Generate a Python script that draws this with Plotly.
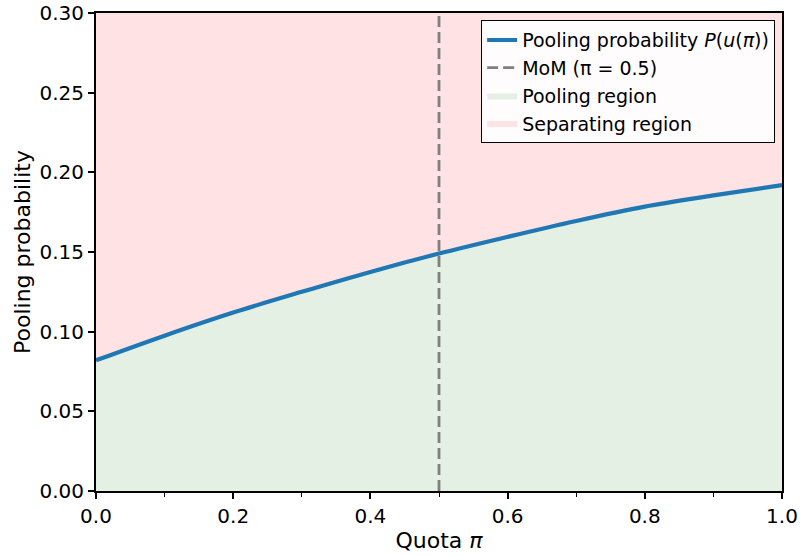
import plotly.graph_objects as go

# Quota values and pooling probability along the curve
quota = [0.0, 0.1, 0.2, 0.3, 0.4, 0.5, 0.6, 0.7, 0.8, 0.9, 1.0]
pooling_prob = [0.082, 0.0975, 0.112, 0.125, 0.1375, 0.149, 0.1595, 0.1695, 0.1785, 0.1855, 0.192]

mom_quota = 0.5
y_max = 0.30

x_ticks = [0.0, 0.2, 0.4, 0.6, 0.8, 1.0]
y_ticks = [0.00, 0.05, 0.10, 0.15, 0.20, 0.25, 0.30]

font = "DejaVu Sans"
green_fill = "rgb(229,240,228)"
pink_fill = "rgb(255,226,228)"
blue = "#1f77b4"

fig = go.Figure()

# Pooling probability curve
fig.add_trace(go.Scatter(
    x=quota, y=pooling_prob, mode="lines", line=dict(color=blue, width=4.2, shape="spline"),
    name="Pooling probability <i>P</i>(<i>u</i>(<i>π</i>))", legendrank=1,
))
# MoM reference line
fig.add_trace(go.Scatter(
    x=[mom_quota, mom_quota], y=[0, y_max], mode="lines",
    line=dict(color="gray", width=2.8, dash="11px,5px"),
    name="MoM (π = 0.5)", legendrank=2,
))
# Pooling region: below the curve
fig.add_trace(go.Scatter(
    x=quota, y=pooling_prob, mode="lines", line=dict(width=0, shape="spline", color=green_fill),
    fill="tozeroy", fillcolor=green_fill, name="Pooling region", legendrank=3,
))
# Separating region: between the curve and the top of the axis
fig.add_trace(go.Scatter(
    x=quota, y=[y_max] * len(quota), mode="lines", line=dict(width=0, color=pink_fill),
    fill="tonexty", fillcolor=pink_fill, name="Separating region", legendrank=4,
))
# Redraw the curve and MoM line above the fills
fig.add_trace(go.Scatter(
    x=quota, y=pooling_prob, mode="lines", line=dict(color=blue, width=4.2, shape="spline"),
    showlegend=False, hoverinfo="skip",
))
fig.add_trace(go.Scatter(
    x=[mom_quota, mom_quota], y=[0, y_max], mode="lines",
    line=dict(color="gray", width=2.8, dash="11px,5px"),
    showlegend=False, hoverinfo="skip",
))

axis_common = dict(
    showline=True, linecolor="black", linewidth=2, mirror=True,
    ticks="outside", ticklen=6, tickwidth=1.5, tickcolor="black",
    showgrid=False, zeroline=False, automargin=False,
    tickfont=dict(family=font, size=20, color="black"),
)

fig.update_xaxes(
    range=[0, 1], tickvals=x_ticks, ticktext=[f"{v:.1f}" for v in x_ticks],
    title=dict(text="Quota <i>π</i>", font=dict(family=font, size=22, color="black"), standoff=6),
    minor=dict(ticks="outside", ticklen=3.5, tickwidth=1, tickcolor="black", dtick=0.1, showgrid=False),
    **axis_common,
)
fig.update_yaxes(
    range=[0, y_max], tickvals=y_ticks, ticktext=[f"{v:.2f}" for v in y_ticks],
    title=dict(text="Pooling probability", font=dict(family=font, size=22, color="black"), standoff=3),
    **axis_common,
)

fig.update_layout(
    width=801, height=556,
    margin=dict(l=96, r=19, t=13, b=65),
    plot_bgcolor="white", paper_bgcolor="white",
    font=dict(family=font, size=19, color="black"),
    legend=dict(
        x=0.99, y=0.985, xanchor="right", yanchor="top",
        traceorder="normal",
        bgcolor="rgba(255,255,255,0.9)", bordercolor="black", borderwidth=1,
        font=dict(family=font, size=19, color="black"),
        tracegroupgap=0,
    ),
    showlegend=True,
)

fig.write_html("out.html")
